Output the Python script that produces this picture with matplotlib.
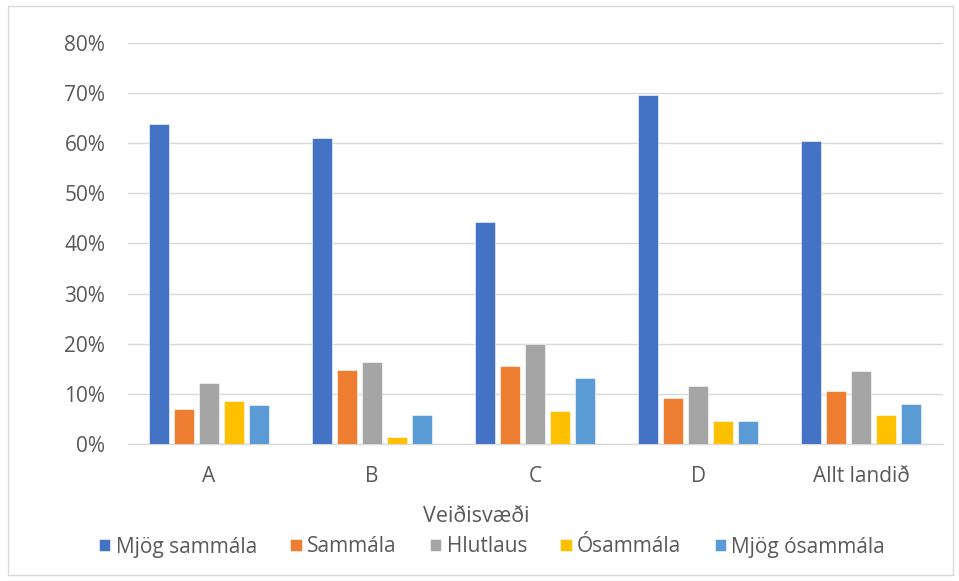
import numpy as np
import matplotlib.pyplot as plt
from matplotlib.patches import Rectangle
from matplotlib.ticker import PercentFormatter

plt.rcParams['font.family'] = ['Open Sans', 'DejaVu Sans']

categories = ['A', 'B', 'C', 'D', 'Allt landið']
series_names = ['Mjög sammála', 'Sammála', 'Hlutlaus', 'Ósammála', 'Mjög ósammála']
mjog_sammala = [0.639, 0.610, 0.443, 0.697, 0.604]
sammala = [0.069, 0.148, 0.155, 0.092, 0.106]
hlutlaus = [0.121, 0.163, 0.199, 0.115, 0.146]
osammala = [0.086, 0.013, 0.065, 0.045, 0.058]
mjog_osammala = [0.078, 0.058, 0.132, 0.045, 0.080]
yticks = [0, 0.1, 0.2, 0.3, 0.4, 0.5, 0.6, 0.7, 0.8]

colors = ['#4472C4', '#ED7D31', '#A5A5A5', '#FFC000', '#5B9BD5']
text_color = '#595959'

fig = plt.figure(figsize=(9.59, 5.81), dpi=100)
ax = fig.add_axes([0.133, 0.236, 0.850, 0.690])

# 5 bars per category, 20px wide on a 25px step (category spacing ~163px)
x = np.arange(len(categories))
step = 25 / 163
width = 20 / 163
all_series = [mjog_sammala, sammala, hlutlaus, osammala, mjog_osammala]
for i, (vals, name) in enumerate(zip(all_series, series_names)):
    ax.bar(x + (i - 2) * step, vals, width, color=colors[i], label=name,
           edgecolor='white', linewidth=0.4, zorder=3)

ax.set_xlim(-0.5, len(categories) - 0.5)
ax.set_ylim(0, 0.8)
ax.set_yticks(yticks)
ax.yaxis.set_major_formatter(PercentFormatter(1.0, decimals=0))
ax.set_xticks(x)
ax.set_xticklabels(categories)
ax.grid(axis='y', color='#D9D9D9', linewidth=1.0, zorder=0)
ax.tick_params(axis='both', length=0, labelsize=15, colors=text_color)
ax.tick_params(axis='y', pad=16)
ax.tick_params(axis='x', pad=16)
for side in ['top', 'right', 'left']:
    ax.spines[side].set_visible(False)
ax.spines['bottom'].set_color('#D9D9D9')
ax.spines['bottom'].set_linewidth(1.0)

fig.text(476 / 959, 1 - 517 / 581, 'Veiðisvæði', ha='center', va='center',
         fontsize=15.5, color=text_color)

handles, labels = ax.get_legend_handles_labels()
fig.legend(handles, labels, loc='center', bbox_to_anchor=(492 / 959, 1 - 547 / 581), ncol=5,
           frameon=False, fontsize=15, labelcolor=text_color, handlelength=0.55,
           handleheight=0.55, handletextpad=0.25, columnspacing=1.6)

# light outer chart border
fig.patches.append(Rectangle((8 / 959, 6 / 581), 945 / 959, 569 / 581, transform=fig.transFigure,
                             fill=False, edgecolor='#D9D9D9', linewidth=1.0))

fig.savefig('out.png', dpi=100)
